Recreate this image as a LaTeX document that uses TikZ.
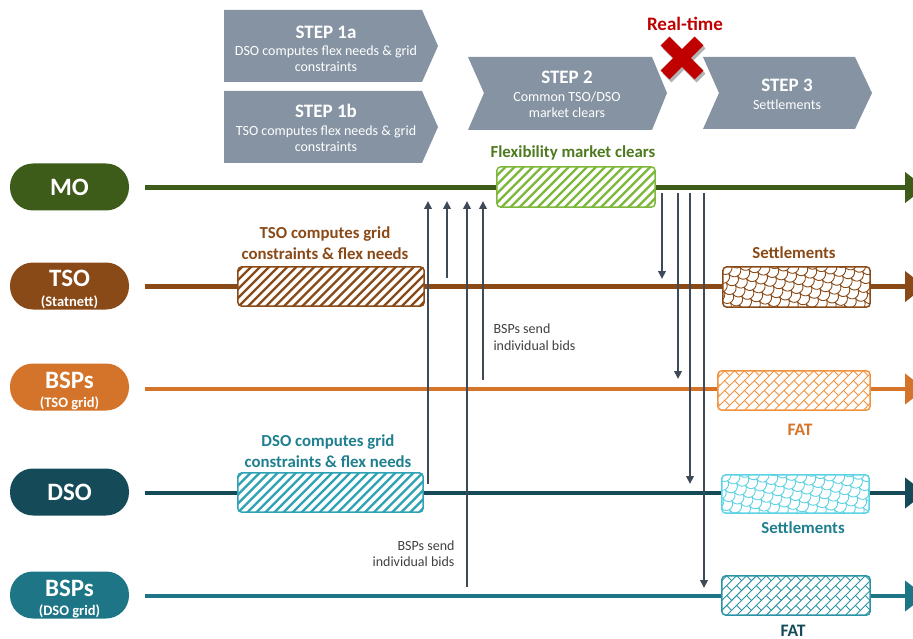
\documentclass[tikz,border=0pt]{standalone}
\usepackage{fontspec}
\setmainfont{Carlito}
\usetikzlibrary{arrows.meta,calc}

\definecolor{moc}{HTML}{3E5C19}
\definecolor{tsoc}{HTML}{8A4A17}
\definecolor{btsoc}{HTML}{D4742A}
\definecolor{dsoc}{HTML}{154B58}
\definecolor{bdsoc}{HTML}{1D7585}
\definecolor{flexc}{HTML}{7DB83A}
\definecolor{flextxt}{HTML}{4E7A1F}
\definecolor{dsotxt}{HTML}{1F7F8F}
\definecolor{dsohatch}{HTML}{2EA3B5}
\definecolor{fatorange}{HTML}{F0923E}
\definecolor{cyanl}{HTML}{5CD3E3}
\definecolor{fatteal}{HTML}{2A93A5}
\definecolor{bannerc}{HTML}{8593A3}
\definecolor{arrowc}{HTML}{3F4A59}
\definecolor{rtred}{HTML}{C00000}
\definecolor{bidc}{HTML}{404040}

% fill a named box with a hand-drawn texture, then draw its border
\newcommand\texturebox[4]{% #1 node, #2 colour, #3 rotation, #4 texture code
  \begin{scope}
    \clip[rounded corners=4pt] (#1.south west) rectangle (#1.north east);
    \begin{scope}[shift={(#1.center)}, rotate=#3, draw=#2]
      #4
    \end{scope}
  \end{scope}
  \draw[#2, rounded corners=4pt, line width=1.5pt] (#1.south west) rectangle (#1.north east);
}
\newcommand\stripetex{%
  \foreach \k in {-18,...,18} {\draw[line width=2.3pt] (-130,\k*6.4) -- (130,\k*6.4);}}
\newcommand\bricktex{%
  \foreach \k in {-12,-10,...,12} {
    \draw[line width=0.9pt] (-130,\k*7) -- (130,\k*7);
    \draw[line width=0.9pt] (-130,\k*7+7) -- (130,\k*7+7);
    \foreach \j in {-8,...,8} {
      \draw[line width=0.9pt] (\j*14,\k*7) -- (\j*14,\k*7+7);
      \draw[line width=0.9pt] (\j*14+7,\k*7+7) -- (\j*14+7,\k*7+14);
    }}}
\newcommand\scaletex{%
  \foreach \k in {-12,-10,...,12} {
    \foreach \j in {-9,...,9} {
      \draw[line width=0.9pt] (\j*13-6.5,\k*6.5) arc[start angle=180, end angle=0, radius=6.5];
      \draw[line width=0.9pt] (\j*13,\k*6.5+6.5) arc[start angle=180, end angle=0, radius=6.5];
    }}}

\tikzset{
  lane/.style={line width=4.5pt, -{Triangle[length=20pt,width=30pt]}},
  pill/.style={rounded corners=23pt, minimum width=119pt, minimum height=47pt, inner sep=0pt},
  pilltxt/.style={text=white, inner sep=0pt, font=\fontsize{25}{25}\selectfont\bfseries},
  pillsub/.style={text=white, inner sep=0pt, font=\fontsize{14.5}{14.5}\selectfont\bfseries},
  flow/.style={draw=arrowc, line width=2.2pt, -{Triangle[width=7.5pt,length=8pt]}},
  hbox/.style={fill=white, inner sep=0pt},
  steptitle/.style={text=white, font=\fontsize{19}{20}\selectfont\bfseries},
  stepsub/.style={text=white, font=\fontsize{14}{16}\selectfont, align=center},
  lanetxt/.style={font=\fontsize{16.8}{21}\selectfont\bfseries, align=center},
  bidtxt/.style={font=\fontsize{14}{16.5}\selectfont, text=bidc},
}

\begin{document}
\begin{tikzpicture}[x=1pt,y=-1pt]
\useasboundingbox (0,0) rectangle (913,639);
\begin{scope}
\clip (0,0) rectangle (913,639);

% ---------- step banners ----------
\fill[bannerc] (224,10) -- (422,10) -- (438,46) -- (422,82) -- (224,82) -- cycle;
\fill[bannerc] (224,91) -- (422,91) -- (438,127) -- (422,163) -- (224,163) -- cycle;
\fill[bannerc] (468,57) -- (652,57) -- (667,93) -- (652,130) -- (468,130) -- (484,93) -- cycle;
\fill[bannerc] (703,57) -- (855,57) -- (872,93) -- (855,129) -- (703,129) -- (719,93) -- cycle;

\node[steptitle] (s1a) at (326,32) {STEP 1a};
\node[stepsub] (s1as) at (326,59) {DSO computes flex needs \& grid\\constraints};
\node[steptitle] (s1b) at (326,111) {STEP 1b};
\node[stepsub] (s1bs) at (326,138.5) {TSO computes flex needs \& grid\\constraints};
\node[steptitle] (s2) at (567,77) {STEP 2};
\node[stepsub] (s2s) at (567,105) {Common TSO/DSO\\market clears};
\node[steptitle] (s3) at (787,85) {STEP 3};
\node[stepsub] (s3s) at (787,105) {Settlements};

% ---------- real-time marker ----------
\node[text=rtred, font=\fontsize{19}{20}\selectfont\bfseries] (rt) at (685,24) {Real-time};
\draw[line width=12.5pt, black, opacity=0.3] (667,44) -- (701,78) (667,78) -- (701,44);
\draw[line width=12.5pt, rtred] (665,41) -- (699,75) (665,75) -- (699,41);

% ---------- lanes ----------
\node[pill, fill=moc] (mo) at (69.5,187) {};
\node[pilltxt] (mot) at (mo) {MO};
\node[pill, fill=tsoc] (tso) at (69.5,286) {};
\node[pilltxt] (tsot1) at ($(tso)+(0,-8)$) {TSO};
\node[pillsub] (tsot2) at ($(tso)+(0,16)$) {(Statnett)};
\node[pill, fill=btsoc] (btso) at (69.5,387) {};
\node[pilltxt] (btsot1) at ($(btso)+(0,-7)$) {BSPs};
\node[pillsub] (btsot2) at ($(btso)+(0,16)$) {(TSO grid)};
\node[pill, fill=dsoc] (dso) at (69.5,492) {};
\node[pilltxt] (dsot0) at (dso) {DSO};
\node[pill, fill=bdsoc] (bdso) at (69.5,595) {};
\node[pilltxt] (bdsot1) at ($(bdso)+(0,-7)$) {BSPs};
\node[pillsub] (bdsot2) at ($(bdso)+(0,16)$) {(DSO grid)};

\coordinate (moS) at (145,187.5);   \coordinate (moE) at (925,187.5);
\coordinate (tsoS) at (145,286.5);  \coordinate (tsoE) at (925,286.5);
\coordinate (btsoS) at (145,389);   \coordinate (btsoE) at (925,389);
\coordinate (dsoS) at (145,493);    \coordinate (dsoE) at (925,493);
\coordinate (bdsoS) at (145,596);   \coordinate (bdsoE) at (925,596);

\draw[lane, draw=moc, fill=moc] (moS) -- (moE);
\draw[lane, draw=tsoc, fill=tsoc] (tsoS) -- (tsoE);
\draw[lane, draw=btsoc, fill=btsoc] (btsoS) -- (btsoE);
\draw[lane, draw=dsoc, fill=dsoc] (dsoS) -- (dsoE);
\draw[lane, draw=bdsoc, fill=bdsoc] (bdsoS) -- (bdsoE);

% ---------- activity boxes ----------
\node[hbox, minimum width=158pt, minimum height=40pt] (flex) at (576,187) {};
\texturebox{flex}{flexc}{45}{\stripetex}
\node[lanetxt, text=flextxt] (flext) at (573,153) {Flexibility market clears};

\node[hbox, minimum width=186pt, minimum height=39pt] (tsob) at (331,286.5) {};
\texturebox{tsob}{tsoc}{45}{\stripetex}
\node[lanetxt, text=tsoc] (tsot) at (325,243) {TSO computes grid\\constraints \& flex needs};

\node[hbox, minimum width=185pt, minimum height=39pt] (dsob) at (330.5,492.5) {};
\texturebox{dsob}{dsohatch}{45}{\stripetex}
\node[lanetxt, text=dsotxt] (dsot) at (328,451) {DSO computes grid\\constraints \& flex needs};

\node[hbox, minimum width=147pt, minimum height=40pt] (setb1) at (796.5,287) {};
\texturebox{setb1}{tsoc}{30}{\scaletex}
\node[lanetxt, text=tsoc] (sett1) at (794,253) {Settlements};

\node[hbox, minimum width=152pt, minimum height=39pt] (fatb1) at (794,390.5) {};
\texturebox{fatb1}{fatorange}{45}{\bricktex}
\node[lanetxt, text=btsoc, font=\fontsize{17.5}{20}\selectfont\bfseries] (fatt1) at (800,430) {FAT};

\node[hbox, minimum width=147pt, minimum height=38pt] (setb2) at (795.5,494) {};
\texturebox{setb2}{cyanl}{30}{\scaletex}
\node[lanetxt, text=dsotxt] (sett2) at (803,528) {Settlements};

\node[hbox, minimum width=148pt, minimum height=39pt] (fatb2) at (796,595.5) {};
\texturebox{fatb2}{fatteal}{45}{\bricktex}
\node[lanetxt, text=dsoc, font=\fontsize{17.5}{20}\selectfont\bfseries] (fatt2) at (793,630.5) {FAT};

% ---------- bids / information flows ----------
\coordinate (u1s) at (428,484); \coordinate (u1e) at (428,201);
\coordinate (u2s) at (447,278); \coordinate (u2e) at (447,201);
\coordinate (u3s) at (467,587); \coordinate (u3e) at (467,201);
\coordinate (u4s) at (483,380); \coordinate (u4e) at (483,201);
\draw[flow] (u1s) -- (u1e);
\draw[flow] (u2s) -- (u2e);
\draw[flow] (u3s) -- (u3e);
\draw[flow] (u4s) -- (u4e);

\coordinate (d1s) at (662,193); \coordinate (d1e) at (662,279);
\coordinate (d2s) at (678,193); \coordinate (d2e) at (678,379);
\coordinate (d3s) at (690,193); \coordinate (d3e) at (690,484);
\coordinate (d4s) at (704,193); \coordinate (d4e) at (704,588);
\draw[flow] (d1s) -- (d1e);
\draw[flow] (d2s) -- (d2e);
\draw[flow] (d3s) -- (d3e);
\draw[flow] (d4s) -- (d4e);

\node[bidtxt, anchor=west, align=left] (bid1) at (490,337) {BSPs send\\individual bids};
\node[bidtxt, anchor=east, align=right] (bid2) at (458,553.5) {BSPs send\\individual bids};
\end{scope}
\end{tikzpicture}
\end{document}
